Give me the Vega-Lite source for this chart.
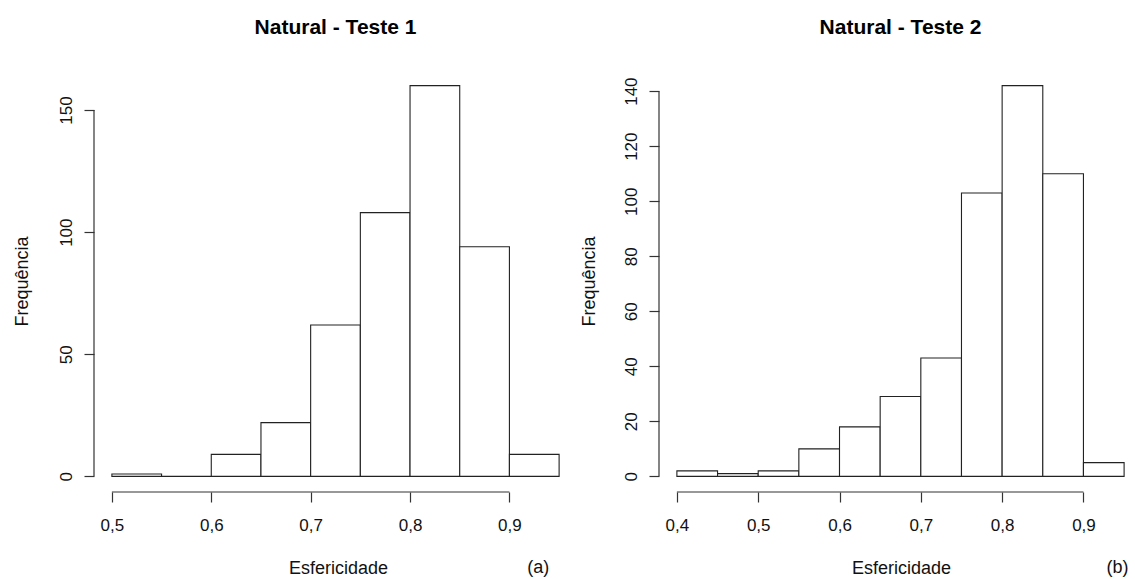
{
  "$schema": "https://vega.github.io/schema/vega-lite/v6.json",
  "background": "white",
  "padding": {"left": 13, "top": 17, "right": 0, "bottom": 0},
  "config": {
    "font": "Liberation Sans",
    "view": {"stroke": null},
    "axis": {
      "grid": false,
      "domain": false,
      "tickColor": "#333",
      "tickSize": 10,
      "tickWidth": 1.2,
      "labelFont": "Liberation Sans",
      "labelFontSize": 17,
      "labelColor": "#111",
      "titleFont": "Liberation Sans",
      "titleFontSize": 18,
      "titleFontWeight": "normal",
      "titleColor": "#111"
    },
    "title": {
      "font": "Liberation Sans",
      "fontSize": 21,
      "fontWeight": "bold",
      "color": "#000",
      "anchor": "middle",
      "baseline": "alphabetic",
      "offset": 32,
      "frame": "group"
    }
  },
  "datasets": {
    "teste1": [
      {"inicio": 0.50, "fim": 0.55, "freq": 1},
      {"inicio": 0.55, "fim": 0.60, "freq": 0},
      {"inicio": 0.60, "fim": 0.65, "freq": 9},
      {"inicio": 0.65, "fim": 0.70, "freq": 22},
      {"inicio": 0.70, "fim": 0.75, "freq": 62},
      {"inicio": 0.75, "fim": 0.80, "freq": 108},
      {"inicio": 0.80, "fim": 0.85, "freq": 160},
      {"inicio": 0.85, "fim": 0.90, "freq": 94},
      {"inicio": 0.90, "fim": 0.95, "freq": 9}
    ],
    "teste2": [
      {"inicio": 0.40, "fim": 0.45, "freq": 2},
      {"inicio": 0.45, "fim": 0.50, "freq": 1},
      {"inicio": 0.50, "fim": 0.55, "freq": 2},
      {"inicio": 0.55, "fim": 0.60, "freq": 10},
      {"inicio": 0.60, "fim": 0.65, "freq": 18},
      {"inicio": 0.65, "fim": 0.70, "freq": 29},
      {"inicio": 0.70, "fim": 0.75, "freq": 43},
      {"inicio": 0.75, "fim": 0.80, "freq": 103},
      {"inicio": 0.80, "fim": 0.85, "freq": 142},
      {"inicio": 0.85, "fim": 0.90, "freq": 110},
      {"inicio": 0.90, "fim": 0.95, "freq": 5}
    ]
  },
  "bounds": "flush",
  "spacing": 82,
  "hconcat": [
    {
      "width": 483,
      "height": 422,
      "title": {"text": "Natural - Teste 1"},
      "layer": [
        {
          "data": {"name": "teste1"},
          "mark": {"type": "rect", "fill": "white", "stroke": "#222", "strokeWidth": 1.1},
          "encoding": {
            "x": {
              "field": "inicio",
              "type": "quantitative",
              "scale": {"domain": [0.482, 0.968], "nice": false, "zero": false},
              "axis": {
                "values": [0.5, 0.6, 0.7, 0.8, 0.9],
                "labelExpr": "replace(format(datum.value, '.1f'), '.', ',')",
                "labelPadding": 15,
                "labelBaseline": "top",
                "title": "Esfericidade",
                "titleX": 244,
                "titleY": 81,
                "titleAlign": "center",
                "titleBaseline": "alphabetic"
              }
            },
            "x2": {"field": "fim"},
            "y": {
              "field": "freq",
              "type": "quantitative",
              "scale": {"domain": [-6.4, 166.4], "nice": false, "zero": false},
              "axis": {
                "values": [0, 50, 100, 150],
                "labelAngle": -90,
                "labelAlign": "center",
                "labelBaseline": "alphabetic",
                "labelPadding": 13,
                "title": "Frequência",
                "titleAngle": -90,
                "titleX": -67,
                "titleY": 211,
                "titleAlign": "center",
                "titleBaseline": "alphabetic"
              }
            },
            "y2": {"datum": 0}
          }
        },
        {
          "data": {"values": [{}]},
          "mark": {"type": "rule", "color": "#333", "strokeWidth": 1.2},
          "encoding": {"x": {"datum": 0.482}, "y": {"datum": 0}, "y2": {"datum": 150}}
        },
        {
          "data": {"values": [{}]},
          "mark": {"type": "rule", "color": "#333", "strokeWidth": 1.2},
          "encoding": {"x": {"datum": 0.5}, "x2": {"datum": 0.9}, "y": {"datum": -6.4}}
        },
        {
          "data": {"values": [{}]},
          "mark": {"type": "text", "align": "center", "baseline": "alphabetic", "dy": 81, "fontSize": 18, "fontWeight": "normal", "font": "Liberation Sans", "color": "#111"},
          "encoding": {"x": {"datum": 0.929}, "y": {"datum": -6.4}, "text": {"value": "(a)"}}
        }
      ]
    },
    {
      "width": 476,
      "height": 422,
      "title": {"text": "Natural - Teste 2", "dx": 3.5},
      "layer": [
        {
          "data": {"name": "teste2"},
          "mark": {"type": "rect", "fill": "white", "stroke": "#222", "strokeWidth": 1.1},
          "encoding": {
            "x": {
              "field": "inicio",
              "type": "quantitative",
              "scale": {"domain": [0.378, 0.9634], "nice": false, "zero": false},
              "axis": {
                "values": [0.4, 0.5, 0.6, 0.7, 0.8, 0.9],
                "labelExpr": "replace(format(datum.value, '.1f'), '.', ',')",
                "labelPadding": 15,
                "labelBaseline": "top",
                "title": "Esfericidade",
                "titleX": 242,
                "titleY": 81,
                "titleAlign": "center",
                "titleBaseline": "alphabetic"
              }
            },
            "x2": {"field": "fim"},
            "y": {
              "field": "freq",
              "type": "quantitative",
              "scale": {"domain": [-5.68, 147.68], "nice": false, "zero": false},
              "axis": {
                "values": [0, 20, 40, 60, 80, 100, 120, 140],
                "labelAngle": -90,
                "labelAlign": "center",
                "labelBaseline": "alphabetic",
                "labelPadding": 13,
                "title": "Frequência",
                "titleAngle": -90,
                "titleX": -65,
                "titleY": 211,
                "titleAlign": "center",
                "titleBaseline": "alphabetic"
              }
            },
            "y2": {"datum": 0}
          }
        },
        {
          "data": {"values": [{}]},
          "mark": {"type": "rule", "color": "#333", "strokeWidth": 1.2},
          "encoding": {"x": {"datum": 0.378}, "y": {"datum": 0}, "y2": {"datum": 140}}
        },
        {
          "data": {"values": [{}]},
          "mark": {"type": "rule", "color": "#333", "strokeWidth": 1.2},
          "encoding": {"x": {"datum": 0.4}, "x2": {"datum": 0.9}, "y": {"datum": -5.68}}
        },
        {
          "data": {"values": [{}]},
          "mark": {"type": "text", "align": "center", "baseline": "alphabetic", "dy": 81, "fontSize": 18, "fontWeight": "normal", "font": "Liberation Sans", "color": "#111"},
          "encoding": {"x": {"datum": 0.942}, "y": {"datum": -5.68}, "text": {"value": "(b)"}}
        }
      ]
    }
  ]
}
